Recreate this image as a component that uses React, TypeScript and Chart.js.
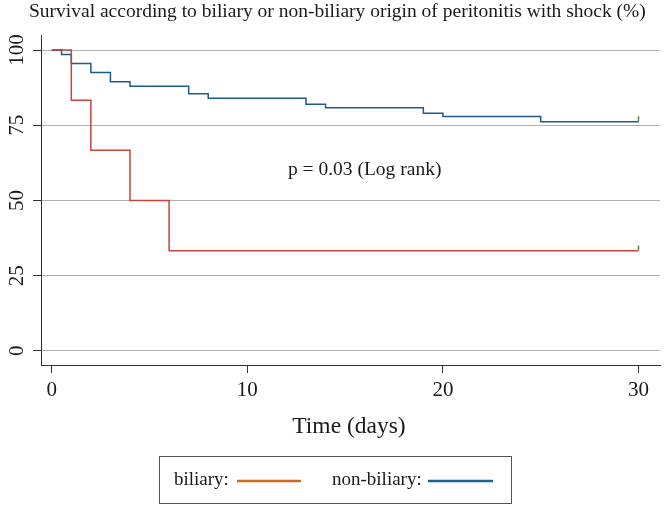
import React, { useEffect, useRef } from "react";
import { Chart, registerables } from "chart.js";

Chart.register(...registerables);

// Kaplan-Meier survival, peritonitis with shock: biliary vs non-biliary origin

const BILIARY_DAYS = [0, 1, 2, 4, 6, 30];
const BILIARY_SURV = [100, 83.3, 66.7, 50, 33.3, 33.3];

const NONBILIARY_DAYS = [0, 0.5, 1, 2, 3, 4, 7, 8, 13, 14, 19, 20, 25, 30];
const NONBILIARY_SURV = [100, 98.5, 95.5, 92.5, 89.5, 88, 85.5, 84, 82, 80.8, 79, 77.9, 76.2, 76.2];

// censoring marks at end of follow-up
const CENSOR_DAY = 30;
const BILIARY_CENSOR = [33.3, 35];
const NONBILIARY_CENSOR = [76.2, 78];

const X_TICKS = [0, 10, 20, 30];
const Y_TICKS = [0, 25, 50, 75, 100];

const TITLE = "Survival according to biliary or non-biliary origin of peritonitis with shock (%)";
const X_TITLE = "Time (days)";
const P_TEXT = "p = 0.03 (Log rank)";
const LEGEND_LABELS = ["biliary:", "non-biliary:"];

const SERIF = '"Liberation Serif", "Times New Roman", Times, serif';
const RED = "#c6453a";
const BLUE = "#1f5b87";
const LEGEND_ORANGE = "#d4671c";
const LEGEND_BLUE = "#1d6396";
const CENSOR_GREEN = "#4f8a3c";
const INK = "#1a1a1a";

const toPoints = (xs: number[], ys: number[]) => xs.map((x, i) => ({ x, y: ys[i] }));

// plugin: title, annotation, rotated y labels, axis title and boxed legend
const annotationsPlugin = {
  id: "annotationsPlugin",
  afterDraw(chart: Chart) {
    const { ctx } = chart;
    const yScale = chart.scales.y;
    const xScale = chart.scales.x;
    ctx.save();
    ctx.fillStyle = INK;

    // title
    ctx.font = `19.5px ${SERIF}`;
    ctx.textAlign = "left";
    ctx.textBaseline = "alphabetic";
    ctx.fillText(TITLE, 29, 17);

    // p-value text
    ctx.font = `19.5px ${SERIF}`;
    ctx.textAlign = "center";
    ctx.textBaseline = "middle";
    ctx.fillText(P_TEXT, xScale.getPixelForValue(16), yScale.getPixelForValue(60));

    // rotated y tick labels
    ctx.font = `21px ${SERIF}`;
    Y_TICKS.forEach((v) => {
      ctx.save();
      ctx.translate(17, yScale.getPixelForValue(v));
      ctx.rotate(-Math.PI / 2);
      ctx.textAlign = "center";
      ctx.textBaseline = "middle";
      ctx.fillText(String(v), 0, 0);
      ctx.restore();
    });

    // x axis title
    ctx.font = `23.5px ${SERIF}`;
    ctx.textAlign = "center";
    ctx.textBaseline = "middle";
    ctx.fillText(X_TITLE, 349, 427);

    // legend box
    ctx.strokeStyle = "#555";
    ctx.lineWidth = 1;
    ctx.strokeRect(159.5, 456.5, 352, 47);
    ctx.font = `19px ${SERIF}`;
    ctx.textAlign = "left";
    ctx.textBaseline = "middle";
    ctx.fillText(LEGEND_LABELS[0], 174, 480);
    ctx.fillText(LEGEND_LABELS[1], 332, 480);
    ctx.lineWidth = 2.5;
    ctx.strokeStyle = LEGEND_ORANGE;
    ctx.beginPath();
    ctx.moveTo(237, 481);
    ctx.lineTo(301, 481);
    ctx.stroke();
    ctx.strokeStyle = LEGEND_BLUE;
    ctx.beginPath();
    ctx.moveTo(428, 481);
    ctx.lineTo(493, 481);
    ctx.stroke();

    ctx.restore();
  },
};

export default function App() {
  const canvasRef = useRef<HTMLCanvasElement>(null);
  const chartRef = useRef<Chart | null>(null);

  useEffect(() => {
    if (!canvasRef.current) return;
    const ctx = canvasRef.current.getContext("2d");
    if (!ctx) return;

    if (chartRef.current) {
      chartRef.current.destroy();
      chartRef.current = null;
    }

    chartRef.current = new Chart(ctx, {
      type: "line",
      data: {
        datasets: [
          {
            label: "biliary",
            data: toPoints(BILIARY_DAYS, BILIARY_SURV),
            borderColor: RED,
            borderWidth: 1.5,
            stepped: "before",
            pointRadius: 0,
            fill: false,
          },
          {
            label: "biliary censored",
            data: toPoints([CENSOR_DAY, CENSOR_DAY], BILIARY_CENSOR),
            borderColor: CENSOR_GREEN,
            borderWidth: 1.5,
            pointRadius: 0,
            fill: false,
          },
          {
            label: "non-biliary censored",
            data: toPoints([CENSOR_DAY, CENSOR_DAY], NONBILIARY_CENSOR),
            borderColor: CENSOR_GREEN,
            borderWidth: 1.5,
            pointRadius: 0,
            fill: false,
          },
          {
            label: "non-biliary",
            data: toPoints(NONBILIARY_DAYS, NONBILIARY_SURV),
            borderColor: BLUE,
            borderWidth: 1.5,
            stepped: "before",
            pointRadius: 0,
            fill: false,
          },
        ],
      },
      options: {
        animation: false,
        responsive: true,
        maintainAspectRatio: false,
        layout: { padding: { top: 35, right: 9, left: 0, bottom: 0 } },
        plugins: {
          legend: { display: false },
          tooltip: { enabled: false },
          title: { display: false },
        },
        scales: {
          x: {
            type: "linear",
            min: -0.55,
            max: 31.1,
            afterBuildTicks: (scale: any) => {
              scale.ticks = X_TICKS.map((value) => ({ value }));
            },
            afterFit: (scale: any) => {
              scale.height = 144;
            },
            grid: {
              drawOnChartArea: false,
              drawTicks: true,
              tickLength: 8,
              tickColor: "#333",
              color: "#333",
            },
            border: { color: "#333", width: 1 },
            ticks: {
              font: { family: SERIF, size: 21 },
              color: INK,
              padding: 5,
              maxRotation: 0,
              minRotation: 0,
            },
          },
          y: {
            type: "linear",
            min: -4.7,
            max: 105,
            afterBuildTicks: (scale: any) => {
              scale.ticks = Y_TICKS.map((value) => ({ value }));
            },
            afterFit: (scale: any) => {
              scale.width = 41;
            },
            grid: {
              color: "#b0b0b0",
              lineWidth: 1,
              tickColor: "#333",
              tickLength: 8,
            },
            border: { color: "#333", width: 1 },
            ticks: { display: false },
          },
        },
      },
      plugins: [annotationsPlugin],
    });

    return () => {
      if (chartRef.current) {
        chartRef.current.destroy();
        chartRef.current = null;
      }
    };
  }, []);

  return (
    <div style={{ position: "absolute", left: 0, top: 0, width: 669, height: 509, background: "#fff" }}>
      <canvas ref={canvasRef} aria-label="Survival curves" />
    </div>
  );
}
